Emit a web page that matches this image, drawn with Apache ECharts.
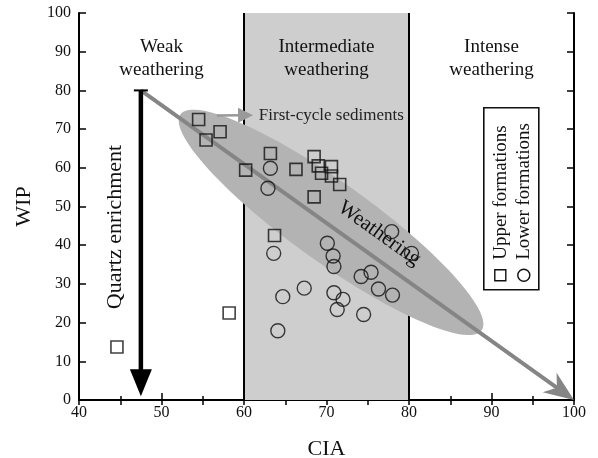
<!DOCTYPE html>
<html>
<head>
<meta charset="utf-8">
<script src="https://cdn.jsdelivr.net/npm/echarts@6/dist/echarts.min.js"></script>
<style>html,body{margin:0;padding:0;background:#fff}#c{width:598px;height:458px}</style>
</head>
<body>
<div id="c"></div>
<script>
// ---- data ----
const ciaTicks = [40, 50, 60, 70, 80, 90, 100];
const wipTicks = [0, 10, 20, 30, 40, 50, 60, 70, 80, 90, 100];
const upperCIA = [44.6, 58.2, 54.5, 57.1, 55.4, 63.2, 60.2, 66.3, 68.5, 69.0, 69.4, 70.6, 70.6, 71.6, 68.5, 63.7];
const upperWIP = [13.7, 22.5, 72.5, 69.3, 67.2, 63.7, 59.4, 59.6, 62.9, 60.5, 58.6, 60.3, 57.9, 55.7, 52.5, 42.5];
const lowerCIA = [63.2, 62.9, 77.9, 80.3, 70.1, 63.6, 70.8, 70.9, 74.2, 75.4, 76.3, 78.0, 67.3, 64.7, 70.9, 72.0, 71.3, 74.5, 64.1];
const lowerWIP = [59.9, 54.7, 43.5, 37.9, 40.5, 37.9, 37.2, 34.5, 31.9, 33.0, 28.7, 27.1, 28.9, 26.7, 27.7, 26.0, 23.4, 22.1, 17.9];
const seriesNames = ['Upper formations', 'Lower formations'];
const zoneBounds = [60, 80];
const zoneLabels = ['Weak\nweathering', 'Intermediate\nweathering', 'Intense\nweathering'];
const zoneCenters = [50, 70, 90];
const weatheringTrend = [[47.5, 80], [100, 0]];
const quartzTrend = [[47.5, 80], [47.5, 1]];
const firstCycleArrow = [[56.7, 73.5], [61.1, 73.6]];
const ellipseTips = [[52.3, 73.8], [88.8, 18.0]];

const FONT = "'Liberation Serif','Times New Roman',serif";
const upper = upperCIA.map((x, i) => [x, upperWIP[i]]);
const lower = lowerCIA.map((x, i) => [x, lowerWIP[i]]);

function arrowShape(api, pts, lineW, headL, headW, color, notch) {
  const p1 = api.coord(pts[0]), p2 = api.coord(pts[1]);
  const dx = p2[0] - p1[0], dy = p2[1] - p1[1];
  const len = Math.sqrt(dx * dx + dy * dy);
  const ux = dx / len, uy = dy / len, nx = -uy, ny = ux;
  const bx = p2[0] - ux * headL, by = p2[1] - uy * headL;
  const nb = notch ? headL * 0.3 : 0;
  const ex = p2[0] - ux * (headL - nb), ey = p2[1] - uy * (headL - nb);
  return [
    {type: 'line', shape: {x1: p1[0], y1: p1[1], x2: ex + ux * 2, y2: ey + uy * 2}, style: {stroke: color, lineWidth: lineW}},
    {type: 'polygon', shape: {points: [[p2[0], p2[1]], [bx + nx * headW / 2, by + ny * headW / 2], [ex, ey], [bx - nx * headW / 2, by - ny * headW / 2]]}, style: {fill: color}}
  ];
}

const chart = echarts.init(document.getElementById('c'), null, {renderer: 'canvas'});
const axisLabelStyle = {fontFamily: FONT, fontSize: 16, color: '#111'};
chart.setOption({
  animation: false,
  grid: {left: 79, right: 24, top: 13, bottom: 58, containLabel: false, outerBoundsMode: 'none'},
  xAxis: [
    {type: 'value', position: 'bottom', min: ciaTicks[0], max: ciaTicks[ciaTicks.length - 1], interval: 10,
      name: 'CIA', nameLocation: 'middle', nameGap: 38, nameTextStyle: {fontFamily: FONT, fontSize: 22, color: '#111'},
      axisLine: {lineStyle: {color: '#000', width: 2}}, axisTick: {inside: true, length: 7, lineStyle: {color: '#000', width: 1.5}},
      minorTick: {show: true, splitNumber: 2, length: 4, lineStyle: {color: '#000', width: 1.5}},
      axisLabel: Object.assign({margin: 5}, axisLabelStyle), splitLine: {show: false}},
    {type: 'value', position: 'top', min: ciaTicks[0], max: ciaTicks[ciaTicks.length - 1], interval: 5,
      axisLine: {lineStyle: {color: '#000', width: 2}}, axisTick: {inside: true, length: 5, lineStyle: {color: '#000', width: 1.5}},
      axisLabel: {show: false}, splitLine: {show: false}}
  ],
  yAxis: [
    {type: 'value', position: 'left', min: wipTicks[0], max: wipTicks[wipTicks.length - 1], interval: 10,
      name: 'WIP', nameLocation: 'middle', nameGap: 44, nameTextStyle: {fontFamily: FONT, fontSize: 22, color: '#111'},
      axisLine: {lineStyle: {color: '#000', width: 2}}, axisTick: {inside: true, length: 7, lineStyle: {color: '#000', width: 1.5}},
      axisLabel: Object.assign({margin: 8}, axisLabelStyle), splitLine: {show: false}},
    {type: 'value', position: 'right', min: wipTicks[0], max: wipTicks[wipTicks.length - 1], interval: 10,
      axisLine: {lineStyle: {color: '#000', width: 2}}, axisTick: {inside: true, length: 7, lineStyle: {color: '#000', width: 1.5}},
      axisLabel: {show: false}, splitLine: {show: false}}
  ],
  series: [
    { // intermediate weathering zone
      type: 'custom', z: 1, silent: true, data: [[zoneBounds[0], wipTicks[wipTicks.length - 1]]],
      renderItem: function (params, api) {
        const a = api.coord([zoneBounds[0], wipTicks[wipTicks.length - 1]]);
        const b = api.coord([zoneBounds[1], wipTicks[0]]);
        return {type: 'group', children: [
          {type: 'rect', shape: {x: a[0], y: a[1], width: b[0] - a[0], height: b[1] - a[1]}, style: {fill: '#cecece'}},
          {type: 'line', shape: {x1: a[0], y1: a[1], x2: a[0], y2: b[1]}, style: {stroke: '#000', lineWidth: 2}},
          {type: 'line', shape: {x1: b[0], y1: a[1], x2: b[0], y2: b[1]}, style: {stroke: '#000', lineWidth: 2}}
        ]};
      }
    },
    { // weathering ellipse
      type: 'custom', z: 2, silent: true, data: [ellipseTips[0]],
      renderItem: function (params, api) {
        const p1 = api.coord(ellipseTips[0]), p2 = api.coord(ellipseTips[1]);
        const cx = (p1[0] + p2[0]) / 2, cy = (p1[1] + p2[1]) / 2;
        const dx = p2[0] - p1[0], dy = p2[1] - p1[1];
        const a = Math.sqrt(dx * dx + dy * dy) / 2, b = a * 0.215, ang = Math.atan2(dy, dx);
        const pts = [];
        for (let i = 0; i < 120; i++) {
          const t = i / 120 * Math.PI * 2;
          const u = a * Math.cos(t), v = b * Math.sin(t);
          pts.push([cx + u * Math.cos(ang) - v * Math.sin(ang), cy + u * Math.sin(ang) + v * Math.cos(ang)]);
        }
        return {type: 'polygon', shape: {points: pts}, style: {fill: '#b3b3b3'}};
      }
    },
    { // arrows
      type: 'custom', z: 3, silent: true, data: [weatheringTrend[0]],
      renderItem: function (params, api) {
        const s = api.coord(quartzTrend[0]);
        const kids = []
          .concat(arrowShape(api, weatheringTrend, 4, 30, 24, '#858585', true))
          .concat(arrowShape(api, quartzTrend, 4.5, 27, 22, '#000', false))
          .concat(arrowShape(api, firstCycleArrow, 2.5, 15, 15, '#999', false));
        kids.push({type: 'line', shape: {x1: s[0] - 7, y1: s[1], x2: s[0] + 7, y2: s[1]}, style: {stroke: '#000', lineWidth: 2}});
        return {type: 'group', children: kids};
      }
    },
    { // annotations
      type: 'custom', z: 6, silent: true, data: [[50, 88]],
      renderItem: function (params, api) {
        const kids = zoneLabels.map((t, i) => {
          const p = api.coord([zoneCenters[i], 88.2]);
          return {type: 'text', x: p[0], y: p[1], style: {text: t, font: '19px ' + FONT, fill: '#111', align: 'center', verticalAlign: 'middle', lineHeight: 23}};
        });
        const f = api.coord([61.8, 73.6]);
        kids.push({type: 'text', x: f[0], y: f[1], style: {text: 'First-cycle sediments', font: '17px ' + FONT, fill: '#222', align: 'left', verticalAlign: 'middle'}});
        const w = api.coord([76.4, 43.0]);
        const p1 = api.coord(weatheringTrend[0]), p2 = api.coord(weatheringTrend[1]);
        const ang = Math.atan2(p2[1] - p1[1], p2[0] - p1[0]);
        kids.push({type: 'text', x: w[0], y: w[1], rotation: -ang, style: {text: 'Weathering', font: '21px ' + FONT, fill: '#111', align: 'center', verticalAlign: 'middle'}});
        const q = api.coord([44.4, 44.7]);
        kids.push({type: 'text', x: q[0], y: q[1], rotation: Math.PI / 2, style: {text: 'Quartz enrichment', font: '22px ' + FONT, fill: '#111', align: 'center', verticalAlign: 'middle'}});
        return {type: 'group', children: kids};
      }
    },
    {name: seriesNames[0], type: 'scatter', z: 5, data: upper, symbol: 'rect', symbolSize: 12,
      itemStyle: {color: 'rgba(0,0,0,0)', borderColor: '#111', borderWidth: 1.6}},
    {name: seriesNames[1], type: 'scatter', z: 5, data: lower, symbol: 'circle', symbolSize: 14,
      itemStyle: {color: 'rgba(0,0,0,0)', borderColor: '#111', borderWidth: 1.4}}
  ],
  graphic: [
    {type: 'group', left: 483, top: 107, children: [
      {type: 'rect', shape: {x: 0, y: 0, width: 55, height: 182}, style: {fill: '#fff', stroke: '#111', lineWidth: 1.6}},
      {type: 'rect', shape: {x: 11, y: 162, width: 11, height: 11}, style: {fill: 'none', stroke: '#111', lineWidth: 1.4}},
      {type: 'circle', shape: {cx: 40, cy: 167.5, r: 6}, style: {fill: 'none', stroke: '#111', lineWidth: 1.4}},
      {type: 'text', x: 17, y: 152, rotation: Math.PI / 2, style: {text: seriesNames[0], font: '19px ' + FONT, fill: '#111', align: 'left', verticalAlign: 'middle'}},
      {type: 'text', x: 40, y: 152, rotation: Math.PI / 2, style: {text: seriesNames[1], font: '19px ' + FONT, fill: '#111', align: 'left', verticalAlign: 'middle'}}
    ]}
  ]
});
</script>
</body>
</html>
